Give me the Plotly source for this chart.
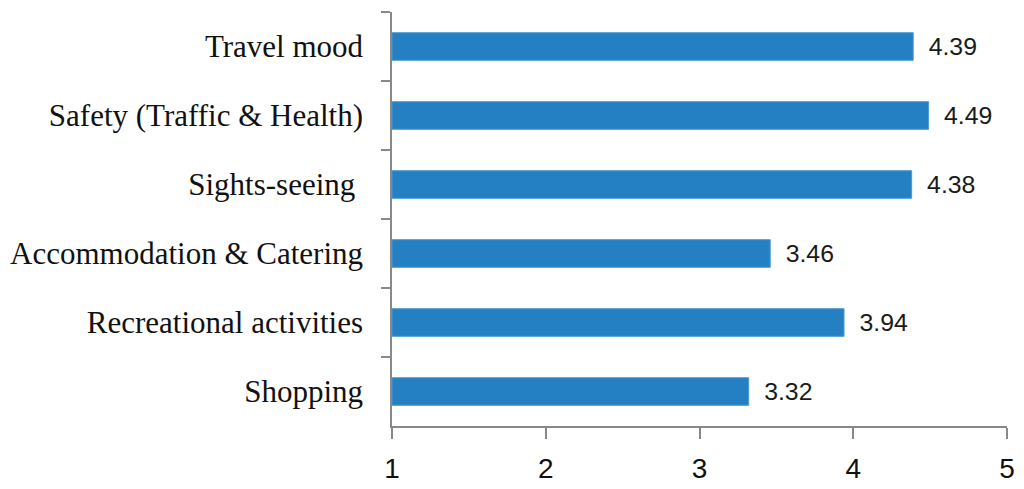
import plotly.graph_objects as go

categories = ["Travel mood", "Safety (Traffic & Health)", "Sights-seeing\u00a0",
              "Accommodation & Catering", "Recreational activities", "Shopping"]
values = [4.39, 4.49, 4.38, 3.46, 3.94, 3.32]
x_ticks = [1, 2, 3, 4, 5]

fig = go.Figure(go.Bar(
    x=[v - 1 for v in values],
    base=1,
    y=categories,
    orientation="h",
    marker=dict(color="#2580C3", line=dict(color="#4A9AD6", width=1)),
    text=["\u2002" + f"{v:.2f}" for v in values],
    textposition="outside",
    textfont=dict(family="Liberation Sans", size=27, color="#1a1a1a"),
    cliponaxis=False,
    width=0.4,
    hoverinfo="skip",
))

fig.update_layout(
    width=1024, height=489,
    margin=dict(l=392, r=17, t=12, b=63),
    plot_bgcolor="white", paper_bgcolor="white",
    showlegend=False,
)
fig.update_xaxes(
    range=[1, 5], tickvals=x_ticks, ticktext=[str(t) for t in x_ticks],
    showgrid=False, zeroline=False, automargin=False,
    showline=True, linecolor="#888888", linewidth=1.5,
    ticks="outside", ticklen=11, tickcolor="#888888", tickwidth=1.5,
    tickfont=dict(family="Liberation Sans", size=28, color="#111111"),
    ticklabelstandoff=6,
)
fig.update_yaxes(
    autorange="reversed", tickson="boundaries",
    showgrid=False, zeroline=False, automargin=False,
    showline=True, linecolor="#888888", linewidth=1.5,
    ticks="outside", ticklen=9, tickcolor="#888888", tickwidth=1.5,
    tickfont=dict(family="Liberation Serif", size=31, color="#111111"),
    ticklabelstandoff=21,
)

fig.write_html("out.html", config={"displayModeBar": False},
               post_script="document.body.style.margin='0';")
